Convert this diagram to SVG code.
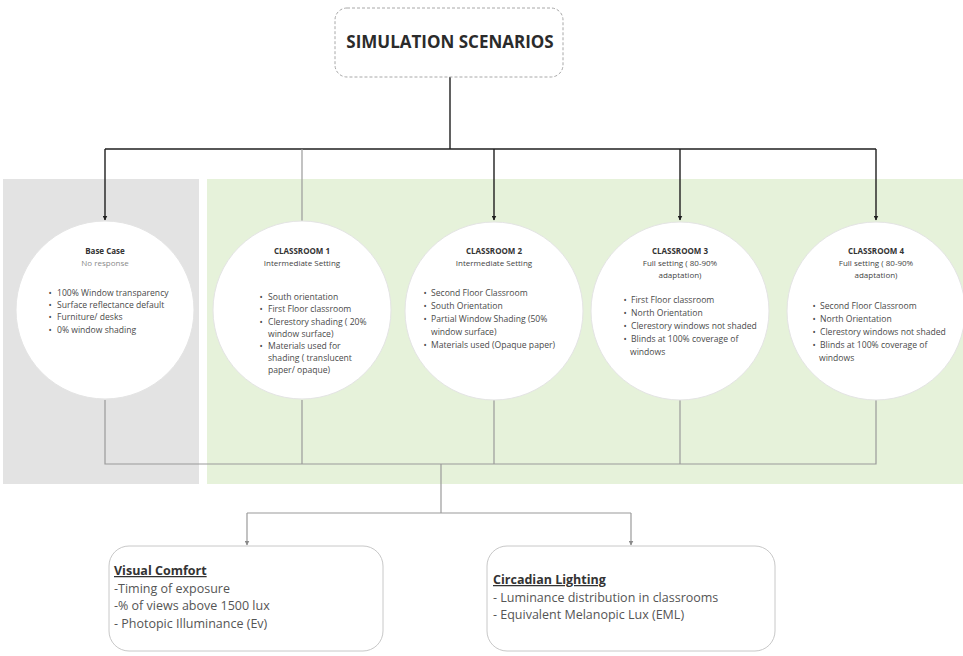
<svg xmlns="http://www.w3.org/2000/svg" width="963" height="656" viewBox="0 0 963 656">
  <style>
    text { font-family: "Open Sans", "Liberation Sans", sans-serif; }
    .title { font-size: 17px; font-weight: 700; fill: #2b2b2b; text-anchor: middle; }
    .head { font-size: 8px; font-weight: 700; fill: #333; text-anchor: middle; }
    .sub { font-size: 8px; fill: #444; text-anchor: middle; }
    .subgrey { font-size: 8px; fill: #8a8a8a; text-anchor: middle; }
    .item { font-size: 8.6px; fill: #4a4a4a; }
    .dot { text-anchor: middle; }
    .node { fill: #ffffff; stroke: #e4e4e4; stroke-width: 1; }
    .tree { fill: none; stroke: #1f1f1f; stroke-width: 1.4; }
    .thin { fill: none; stroke: #9a9a9a; stroke-width: 1.2; }
    .box { fill: #ffffff; stroke: #c8c8c8; stroke-width: 1; }
    .bhead { font-size: 12.5px; font-weight: 700; fill: #333; text-decoration: underline; }
    .bline { font-size: 12.5px; fill: #555; }
  </style>
  <defs>
    <marker id="arrowDark" viewBox="0 0 10 10" refX="9" refY="5" markerWidth="5" markerHeight="5" orient="auto" markerUnits="userSpaceOnUse">
      <path d="M0,0 L10,5 L0,10 Z" fill="#1f1f1f"/>
    </marker>
    <marker id="arrowGrey" viewBox="0 0 10 10" refX="9" refY="5" markerWidth="5" markerHeight="5" orient="auto" markerUnits="userSpaceOnUse">
      <path d="M0,0 L10,5 L0,10 Z" fill="#8a8a8a"/>
    </marker>
  </defs>

  <rect width="963" height="656" fill="#ffffff"/>

  <!-- background bands -->
  <rect x="3" y="179" width="196" height="305" fill="#e3e3e3"/>
  <rect x="207" y="179" width="756" height="305" fill="#e6f2da"/>

  <!-- connectors -->
  <g id="connectors">
    <path class="tree" d="M450,77 V149"/>
    <path class="tree" d="M105,149 H876"/>
    <path class="tree" d="M105,149 V220" marker-end="url(#arrowDark)"/>
    <path class="thin" d="M302,149 V221"/>
    <path class="tree" d="M494,149 V220" marker-end="url(#arrowDark)"/>
    <path class="tree" d="M680,149 V220" marker-end="url(#arrowDark)"/>
    <path class="tree" d="M876,149 V220" marker-end="url(#arrowDark)"/>

    <path class="thin" d="M105,400 V464 H876 V400"/>
    <path class="thin" d="M302,400 V464"/>
    <path class="thin" d="M494,400 V464"/>
    <path class="thin" d="M680,400 V464"/>
    <path class="thin" d="M441,464 V513"/>
    <path class="thin" d="M247,513 H631"/>
    <path class="thin" d="M247,513 V545" marker-end="url(#arrowGrey)"/>
    <path class="thin" d="M631,513 V545" marker-end="url(#arrowGrey)"/>
  </g>

  <!-- title -->
  <g id="title">
    <rect x="335" y="8" width="228" height="69" rx="12" fill="#ffffff" stroke="#a8a8a8" stroke-width="1" stroke-dasharray="3 2"/>
    <text class="title" x="450" y="48">SIMULATION SCENARIOS</text>
  </g>

  <!-- base case -->
  <g id="base-case">
    <circle class="node" cx="105" cy="310" r="89"/>
    <text class="head" x="105" y="254">Base Case</text>
    <text class="subgrey" x="105" y="266">No response</text>
    <g class="item">
      <text class="dot" x="50" y="296">•</text><text x="57" y="296">100% Window transparency</text>
      <text class="dot" x="50" y="308">•</text><text x="57" y="308">Surface reflectance default</text>
      <text class="dot" x="50" y="320">•</text><text x="57" y="320">Furniture/ desks</text>
      <text class="dot" x="50" y="333">•</text><text x="57" y="333">0% window shading</text>
    </g>
  </g>

  <!-- classroom 1 -->
  <g id="classroom-1">
    <circle class="node" cx="302" cy="310" r="89"/>
    <text class="head" x="302" y="254">CLASSROOM 1</text>
    <text class="sub" x="302" y="266">Intermediate Setting</text>
    <g class="item">
      <text class="dot" x="261" y="300">•</text><text x="268" y="300">South orientation</text>
      <text class="dot" x="261" y="312">•</text><text x="268" y="312">First Floor classroom</text>
      <text class="dot" x="261" y="325">•</text><text x="268" y="325">Clerestory shading ( 20%</text>
      <text x="268" y="337">window surface)</text>
      <text class="dot" x="261" y="349">•</text><text x="268" y="349">Materials used for</text>
      <text x="268" y="361">shading ( translucent</text>
      <text x="268" y="373">paper/ opaque)</text>
    </g>
  </g>

  <!-- classroom 2 -->
  <g id="classroom-2">
    <circle class="node" cx="494" cy="311" r="89"/>
    <text class="head" x="494" y="254">CLASSROOM 2</text>
    <text class="sub" x="494" y="266">Intermediate Setting</text>
    <g class="item">
      <text class="dot" x="425" y="296">•</text><text x="431" y="296">Second Floor Classroom</text>
      <text class="dot" x="425" y="309">•</text><text x="431" y="309">South Orientation</text>
      <text class="dot" x="425" y="322">•</text><text x="431" y="322">Partial Window Shading (50%</text>
      <text x="431" y="335">window  surface)</text>
      <text class="dot" x="425" y="348">•</text><text x="431" y="348">Materials used (Opaque paper)</text>
    </g>
  </g>

  <!-- classroom 3 -->
  <g id="classroom-3">
    <circle class="node" cx="680" cy="311" r="89"/>
    <text class="head" x="680" y="254">CLASSROOM 3</text>
    <text class="sub" x="680" y="266">Full setting  ( 80-90%</text>
    <text class="sub" x="680" y="278">adaptation)</text>
    <g class="item">
      <text class="dot" x="625" y="303">•</text><text x="631" y="303">First Floor classroom</text>
      <text class="dot" x="625" y="316">•</text><text x="631" y="316">North Orientation</text>
      <text class="dot" x="625" y="329">•</text><text x="631" y="329">Clerestory windows not shaded</text>
      <text class="dot" x="625" y="342">•</text><text x="631" y="342">Blinds at 100% coverage of</text>
      <text x="630" y="355">windows</text>
    </g>
  </g>

  <!-- classroom 4 -->
  <g id="classroom-4">
    <circle class="node" cx="876" cy="311" r="89"/>
    <text class="head" x="876" y="254">CLASSROOM 4</text>
    <text class="sub" x="876" y="266">Full setting  ( 80-90%</text>
    <text class="sub" x="876" y="278">adaptation)</text>
    <g class="item">
      <text class="dot" x="814" y="309">•</text><text x="820" y="309">Second Floor Classroom</text>
      <text class="dot" x="814" y="322">•</text><text x="820" y="322">North Orientation</text>
      <text class="dot" x="814" y="335">•</text><text x="820" y="335">Clerestory windows not shaded</text>
      <text class="dot" x="814" y="348">•</text><text x="820" y="348">Blinds at 100% coverage of</text>
      <text x="819" y="361">windows</text>
    </g>
  </g>

  <!-- outcome boxes -->
  <g id="visual-comfort">
    <rect class="box" x="109" y="546" width="274" height="105" rx="20"/>
    <text class="bhead" x="114" y="575">Visual Comfort</text>
    <text class="bline" x="114" y="593">-Timing of exposure</text>
    <text class="bline" x="114" y="610">-% of views above 1500 lux</text>
    <text class="bline" x="114" y="628">- Photopic Illuminance (Ev)</text>
  </g>

  <g id="circadian-lighting">
    <rect class="box" x="487" y="546" width="288" height="105" rx="20"/>
    <text class="bhead" x="493" y="584">Circadian Lighting</text>
    <text class="bline" x="493" y="602">- Luminance distribution in classrooms</text>
    <text class="bline" x="493" y="619">- Equivalent Melanopic Lux (EML)</text>
  </g>
</svg>
